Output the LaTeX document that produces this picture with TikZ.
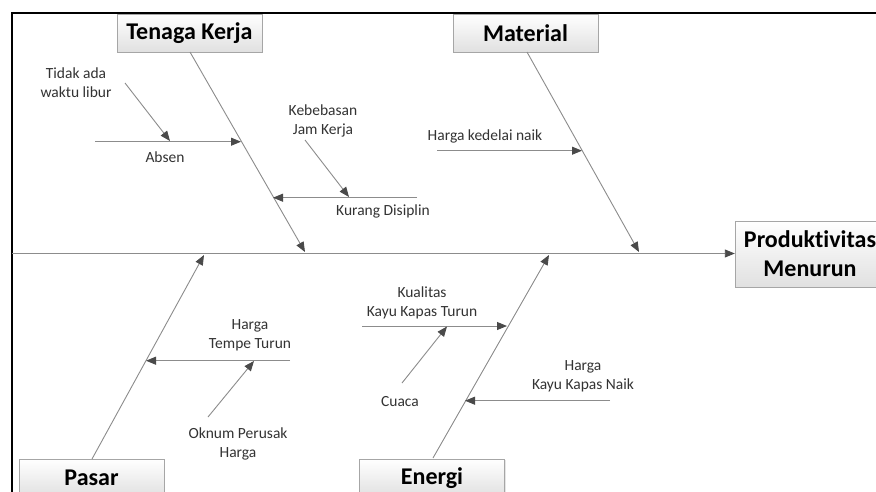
\documentclass[tikz,border=0pt]{standalone}
\usepackage{fontspec}
\setmainfont{Carlito}[Ligatures={NoCommon,NoContextual}]
\usetikzlibrary{arrows.meta,shadows}
\definecolor{bone}{HTML}{8C8C8C}
\definecolor{tipc}{HTML}{4A4A4A}
\definecolor{lbl}{HTML}{333333}
\begin{document}
\begin{tikzpicture}[x=1pt,y=-1pt,
  catbox/.style={draw=black!35, top color=white, bottom color=black!12,
    minimum width=145pt, minimum height=38pt, inner sep=0pt,
    font=\fontsize{24}{29}\selectfont\bfseries,
    drop shadow={shadow xshift=1.2pt, shadow yshift=-1.2pt, fill=black!20}},
  effbox/.style={catbox, minimum width=150pt, minimum height=66pt, align=center},
  lab/.style={text=lbl, align=center, inner sep=0pt,
    font=\fontsize{15.5}{19}\selectfont},
  bonel/.style={draw=bone, line width=0.9pt},
  arr/.style={bonel, -{Triangle[length=10pt,width=8pt,fill=tipc,color=tipc]}}
]
\useasboundingbox (0,0) rectangle (876,491);
\clip (0,0) rectangle (876,491);
\fill[white] (0,0) rectangle (876,491);
% frame
\draw[line width=2pt] (11.5,520) -- (11.5,12.5) -- (900,12.5);

% category boxes
\node[catbox] (tk) at (189.5,33) {Tenaga Kerja};
\node[catbox] (mt) at (525.5,33) {Material};
\node[catbox] (ps) at (91.5,478) {Pasar};
\node[catbox] (en) at (432,478) {Energi};
\node[effbox] (ef) at (810,254) {Produktivitas\\Menurun};

% spine
\coordinate (sp0) at (12,253.5);
\draw[arr] (sp0) -- (ef.west |- sp0);

% main bones
\coordinate (tkA) at (190,52);
\coordinate (tkB) at (305,252);
\coordinate (mtA) at (527,52);
\coordinate (mtB) at (639,252);
\coordinate (psA) at (92,459);
\coordinate (psB) at (204,255);
\coordinate (enA) at (433,458);
\coordinate (enB) at (549,255);
\draw[arr] (tkA) -- (tkB);
\draw[arr] (mtA) -- (mtB);
\draw[arr] (psA) -- (psB);
\draw[arr] (enA) -- (enB);

% Tenaga Kerja ribs
\coordinate (abA) at (95,141.7);
\coordinate (abB) at (241,141.7);
\draw[arr] (abA) -- (abB);
\coordinate (tdA) at (125,83);
\coordinate (tdB) at (170,141);
\draw[arr] (tdA) -- (tdB);
\coordinate (kdA) at (417,197.7);
\coordinate (kdB) at (273,197.7);
\draw[arr] (kdA) -- (kdB);
\coordinate (kbA) at (305,140);
\coordinate (kbB) at (349,197);
\draw[arr] (kbA) -- (kbB);

% Material rib
\coordinate (hkA) at (437,150.7);
\coordinate (hkB) at (582,150.7);
\draw[arr] (hkA) -- (hkB);

% Pasar ribs
\coordinate (htA) at (290,360.7);
\coordinate (htB) at (146,360.7);
\draw[arr] (htA) -- (htB);
\coordinate (okA) at (208,417);
\coordinate (okB) at (254,361);
\draw[arr] (okA) -- (okB);

% Energi ribs
\coordinate (kqA) at (362,326);
\coordinate (kqB) at (507,326);
\draw[arr] (kqA) -- (kqB);
\coordinate (cuA) at (402,383);
\coordinate (cuB) at (447,326.5);
\draw[arr] (cuA) -- (cuB);
\coordinate (hnA) at (610,400.7);
\coordinate (hnB) at (465,400.7);
\draw[arr] (hnA) -- (hnB);

% labels
\node[lab] (l1) at (76,82.5) {Tidak ada\\waktu libur};
\node[lab] (l2) at (165,157) {Absen};
\node[lab] (l3) at (323,120.5) {Kebebasan\\Jam Kerja};
\node[lab] (l4) at (383,211) {Kurang Disiplin};
\node[lab] (l5) at (485,136) {Harga kedelai naik};
\node[lab] (l6) at (250,335.5) {Harga\\Tempe Turun};
\node[lab] (l7) at (238,443.5) {Oknum Perusak\\Harga};
\node[lab] (l8) at (422,303) {Kualitas\\Kayu Kapas Turun};
\node[lab] (l9) at (400,402) {Cuaca};
\node[lab] (l10) at (583,376.5) {Harga\\Kayu Kapas Naik};
\end{tikzpicture}
\end{document}
